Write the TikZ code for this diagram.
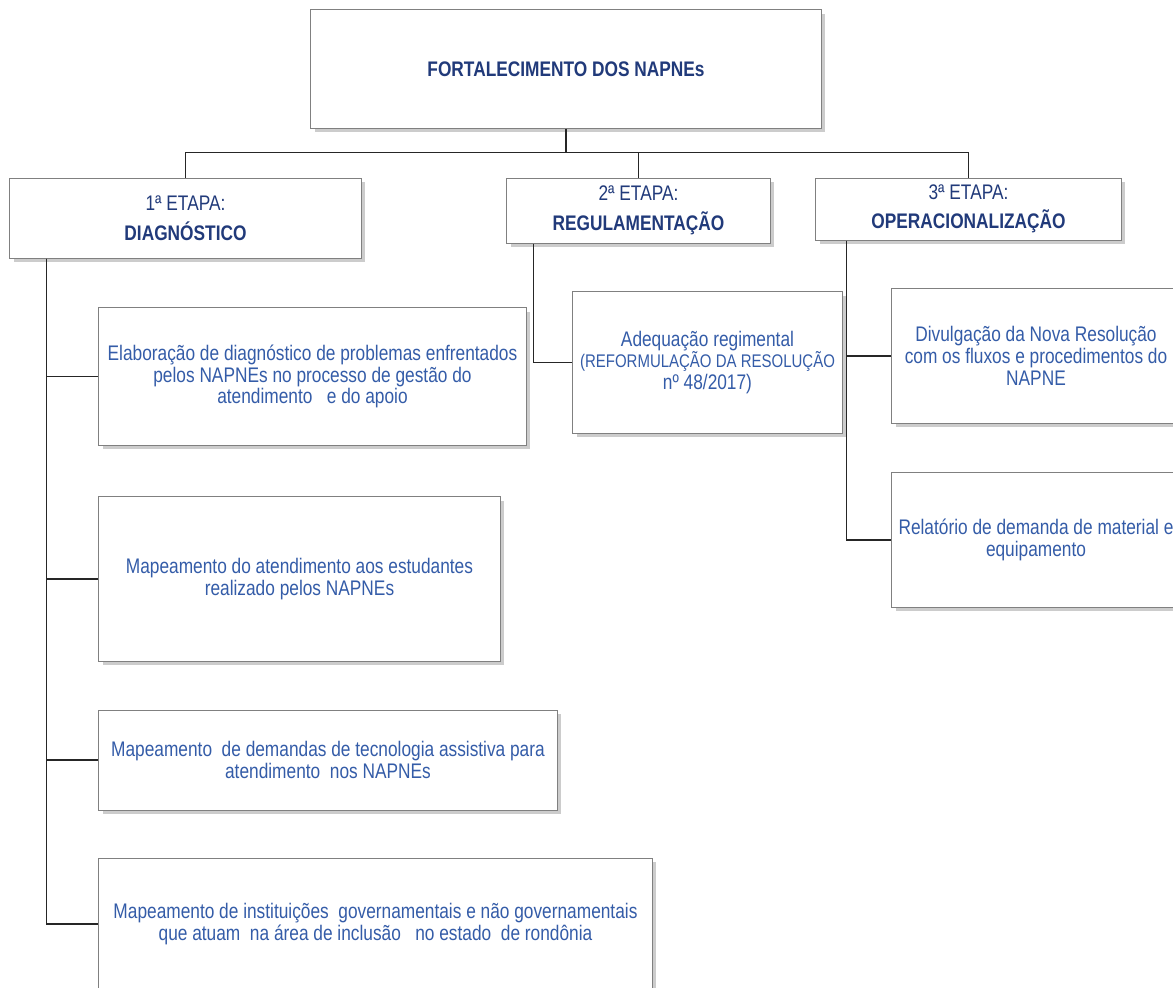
\documentclass[tikz,border=0pt]{standalone}
\usepackage{fontspec}
\setmainfont{Liberation Sans}[FakeStretch=0.82]
\usetikzlibrary{shadows}
\definecolor{titleblue}{RGB}{33,58,122}
\definecolor{textblue}{RGB}{52,92,168}
\tikzstyle{basebox} = [rectangle,
draw=black!50,
fill=white,
line width=0.7pt,
drop shadow={shadow xshift=0.09cm, shadow yshift=-0.09cm, opacity=0.4},
align=center,
inner sep=2pt]
\tikzstyle{stagebox} = [basebox,
text=titleblue,
font=\fontsize{15}{16}\selectfont]
\tikzstyle{taskbox} = [basebox,
text=textblue,
font=\fontsize{15}{15.5}\selectfont]
\tikzstyle{link} = [line width=1.2pt, draw=black!85]

\begin{document}
\begin{tikzpicture}[x=0.025cm, y=-0.025cm]
\useasboundingbox (0,0) rectangle (1173,988);

\node (top) [stagebox, minimum width=12.75cm, minimum height=2.95cm] at (566,69) {\textbf{FORTALECIMENTO DOS NAPNEs}};

\node (et1) [stagebox, minimum width=8.775cm, minimum height=2cm] at (185.5,218) {1ª ETAPA:\\[5pt]\textbf{DIAGNÓSTICO}};
\node (et2) [stagebox, minimum width=6.575cm, minimum height=1.625cm] at (638.5,210.5) {2ª ETAPA:\\[5pt]\textbf{REGULAMENTAÇÃO}};
\node (et3) [stagebox, minimum width=7.625cm, minimum height=1.55cm] at (968.5,209) {3ª ETAPA:\\[5pt]\textbf{OPERACIONALIZAÇÃO}};

% 1a etapa
\node (d1) [taskbox, minimum width=10.675cm, minimum height=3.425cm] at (312.5,376.5) {Elaboração de diagnóstico de problemas enfrentados\\pelos NAPNEs no processo de gestão do\\atendimento \ \ e do apoio};
\node (d2) [taskbox, minimum width=10.025cm, minimum height=4.1cm] at (299.5,579) {Mapeamento do atendimento aos estudantes\\realizado pelos NAPNEs};
\node (d3) [taskbox, minimum width=11.45cm, minimum height=2.5cm] at (328,760) {Mapeamento \ de demandas de tecnologia assistiva para\\atendimento \ nos NAPNEs};
\node (d4) [taskbox, minimum width=13.825cm, minimum height=3.3cm] at (375.5,924) {Mapeamento de instituições \ governamentais e não governamentais\\que atuam \ na área de inclusão \ \ no estado \ de rondônia};

% 2a etapa
\node (r1) [taskbox, minimum width=6.725cm, minimum height=3.525cm] at (707.5,362.5) {Adequação regimental\\{\fontsize{13}{14}\selectfont(REFORMULAÇÃO DA RESOLUÇÃO}\\nº 48/2017)};

% 3a etapa
\node (o1) [taskbox, minimum width=7.2cm, minimum height=3.35cm] at (1036,356) {Divulgação da Nova Resolução\\com os fluxos e procedimentos do\\NAPNE};
\node (o2) [taskbox, minimum width=7.2cm, minimum height=3.35cm] at (1036,540) {Relatório de demanda de material e\\equipamento};

\draw [link] (top.south) -- ++(0,24) coordinate (bus);
\draw [link] (et1.north) |- (bus) -| (et3.north);
\draw [link] (bus) -| (et2.north);

\draw [link] ([xshift=0.925cm]et1.south west) |- (d1.west);
\draw [link] ([xshift=0.925cm]et1.south west) |- (d2.west);
\draw [link] ([xshift=0.925cm]et1.south west) |- (d3.west);
\draw [link] ([xshift=0.925cm]et1.south west) |- (d4.west);

\draw [link] ([xshift=0.675cm]et2.south west) |- (r1.west);

\draw [link] ([xshift=0.775cm]et3.south west) |- (o1.west);
\draw [link] ([xshift=0.775cm]et3.south west) |- (o2.west);

\end{tikzpicture}
\end{document}
